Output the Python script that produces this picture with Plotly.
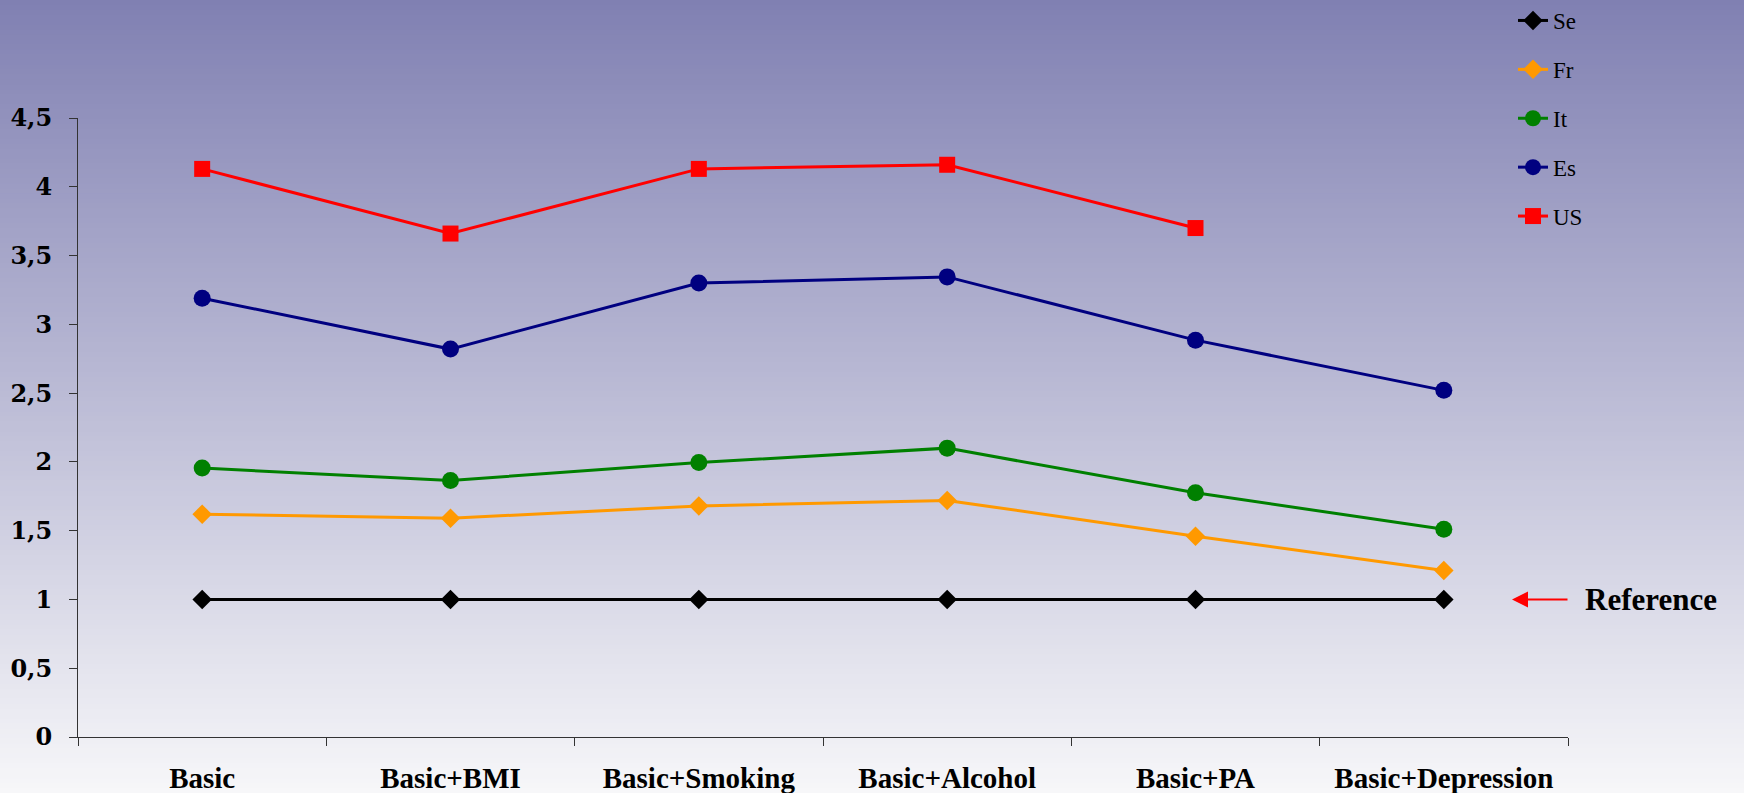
import plotly.graph_objects as go

# Model variants along the x axis
categories = ["Basic", "Basic+BMI", "Basic+Smoking", "Basic+Alcohol", "Basic+PA", "Basic+Depression"]

# Values per country (Se is the reference group = 1)
se = [1.0, 1.0, 1.0, 1.0, 1.0, 1.0]
fr = [1.62, 1.59, 1.68, 1.72, 1.46, 1.21]
it = [1.955, 1.865, 1.995, 2.10, 1.775, 1.51]
es = [3.19, 2.82, 3.30, 3.345, 2.885, 2.52]
us = [4.13, 3.66, 4.13, 4.16, 3.70, None]

y_ticks = [0, 0.5, 1, 1.5, 2, 2.5, 3, 3.5, 4, 4.5]

series = [
    ("Se", se, "#000000", "diamond", 15),
    ("Fr", fr, "#FF9900", "diamond", 15),
    ("It", it, "#008000", "circle", 17),
    ("Es", es, "#000080", "circle", 17),
    ("US", us, "#FF0000", "square", 16),
]

fig = go.Figure()
for name, vals, color, symbol, size in series:
    fig.add_trace(go.Scatter(
        x=categories, y=vals, name=name, legendgroup=name,
        mode="lines+markers",
        line=dict(color=color, width=3),
        marker=dict(symbol=symbol, size=size, color=color),
        connectgaps=False,
    ))

# Vertical background gradient built from thin bands
W, H = 1744, 793
L, R, T, B = 78, 176, 118, 56
pw, ph = W - L - R, H - T - B
top_rgb = (128, 128, 178)
bot_rgb = (247, 247, 249)
n = 160
shapes = []
for i in range(n):
    f0 = i / n
    f1 = (i + 1) / n
    c = tuple(round(top_rgb[k] + (bot_rgb[k] - top_rgb[k]) * (f0 + f1) / 2) for k in range(3))
    py0 = f0 * H - (20 if i == 0 else 0)
    py1 = f1 * H + (20 if i == n - 1 else 2)
    shapes.append(dict(
        type="rect", xref="paper", yref="paper", layer="below",
        x0=(0 - L) / pw - 0.02, x1=(W - L) / pw + 0.02,
        y0=(H - B - py1) / ph, y1=(H - B - py0) / ph,
        fillcolor="rgb(%d,%d,%d)" % c, line=dict(width=0),
    ))

fig.update_layout(
    width=W, height=H,
    margin=dict(l=L, r=R, t=T, b=B, autoexpand=False),
    paper_bgcolor="rgb(247,247,249)",
    plot_bgcolor="rgba(0,0,0,0)",
    separators=", ",
    shapes=shapes,
    showlegend=True,
    legend=dict(
        x=(1513 - L) / pw, xanchor="left",
        y=(H - B + 1) / ph, yanchor="top",
        bgcolor="rgba(0,0,0,0)",
        font=dict(family="Liberation Serif", size=23, color="#000000"),
        tracegroupgap=16,
        traceorder="grouped",
    ),
    xaxis=dict(
        type="category", range=[-0.5, 5.5], automargin=False,
        showgrid=False, zeroline=False,
        showline=True, linecolor="#333333", linewidth=1,
        ticks="outside", ticklen=8, tickcolor="#333333", tickson="boundaries",
        tickfont=dict(family="Liberation Serif", size=29, color="#000000", weight="bold"),
        ticklabelstandoff=15,
    ),
    yaxis=dict(
        range=[0, 4.5], tickvals=y_ticks, automargin=False,
        showgrid=False, zeroline=False,
        showline=True, linecolor="#333333", linewidth=1,
        ticks="outside", ticklen=8, tickcolor="#333333",
        tickfont=dict(family="DejaVu Serif", size=24, color="#000000", weight="bold"),
        ticklabelstandoff=12,
    ),
    annotations=[
        dict(
            xref="paper", yref="y", x=(1512 - L) / pw, y=1,
            ax=57, ay=0, axref="pixel", ayref="pixel",
            text="", showarrow=True, arrowhead=2, arrowsize=1.6,
            arrowwidth=2, arrowcolor="#FF0000",
        ),
        dict(
            xref="paper", yref="y", x=(1583 - L) / pw, y=1,
            xanchor="left", yanchor="middle", showarrow=False,
            text="<b>Reference</b>",
            font=dict(family="Liberation Serif", size=31, color="#000000"),
        ),
    ],
)

fig.write_html("out.html")
